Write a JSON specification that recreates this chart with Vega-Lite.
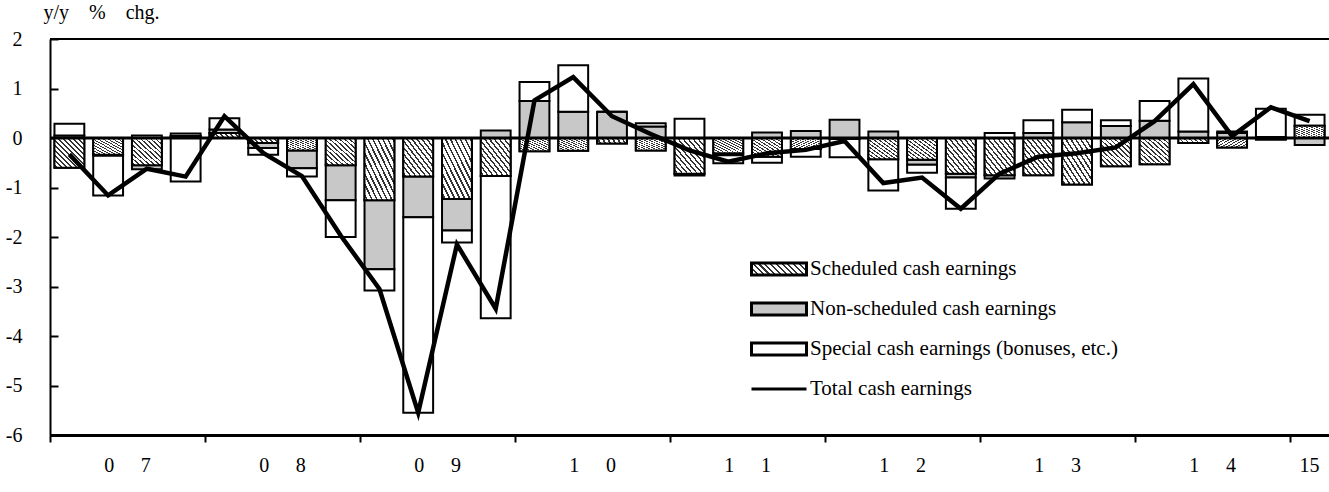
{
  "$schema": "https://vega.github.io/schema/vega-lite/v6.json",
  "width": 1279,
  "height": 396,
  "autosize": "none",
  "padding": {"left": 50, "top": 39, "right": 0, "bottom": 57},
  "background": "white",
  "config": {"view": {"stroke": null}, "font": "Liberation Serif"},
  "datasets": {
    "bars": [
      {"q":"2007Q1","s":"Scheduled cash earnings","k":1,"v":-0.60},{"q":"2007Q1","s":"Non-scheduled cash earnings","k":2,"v":0.05},{"q":"2007Q1","s":"Special cash earnings (bonuses, etc.)","k":3,"v":0.24},
      {"q":"2007Q2","s":"Scheduled cash earnings","k":1,"v":-0.34},{"q":"2007Q2","s":"Non-scheduled cash earnings","k":2,"v":-0.02},{"q":"2007Q2","s":"Special cash earnings (bonuses, etc.)","k":3,"v":-0.80},
      {"q":"2007Q3","s":"Scheduled cash earnings","k":1,"v":-0.55},{"q":"2007Q3","s":"Non-scheduled cash earnings","k":2,"v":-0.08},{"q":"2007Q3","s":"Special cash earnings (bonuses, etc.)","k":3,"v":0.05},
      {"q":"2007Q4","s":"Scheduled cash earnings","k":1,"v":0.04},{"q":"2007Q4","s":"Non-scheduled cash earnings","k":2,"v":0.05},{"q":"2007Q4","s":"Special cash earnings (bonuses, etc.)","k":3,"v":-0.88},
      {"q":"2008Q1","s":"Scheduled cash earnings","k":1,"v":0.10},{"q":"2008Q1","s":"Non-scheduled cash earnings","k":2,"v":0.07},{"q":"2008Q1","s":"Special cash earnings (bonuses, etc.)","k":3,"v":0.23},
      {"q":"2008Q2","s":"Scheduled cash earnings","k":1,"v":-0.10},{"q":"2008Q2","s":"Non-scheduled cash earnings","k":2,"v":-0.10},{"q":"2008Q2","s":"Special cash earnings (bonuses, etc.)","k":3,"v":-0.14},
      {"q":"2008Q3","s":"Scheduled cash earnings","k":1,"v":-0.25},{"q":"2008Q3","s":"Non-scheduled cash earnings","k":2,"v":-0.36},{"q":"2008Q3","s":"Special cash earnings (bonuses, etc.)","k":3,"v":-0.17},
      {"q":"2008Q4","s":"Scheduled cash earnings","k":1,"v":-0.55},{"q":"2008Q4","s":"Non-scheduled cash earnings","k":2,"v":-0.71},{"q":"2008Q4","s":"Special cash earnings (bonuses, etc.)","k":3,"v":-0.74},
      {"q":"2009Q1","s":"Scheduled cash earnings","k":1,"v":-1.26},{"q":"2009Q1","s":"Non-scheduled cash earnings","k":2,"v":-1.39},{"q":"2009Q1","s":"Special cash earnings (bonuses, etc.)","k":3,"v":-0.43},
      {"q":"2009Q2","s":"Scheduled cash earnings","k":1,"v":-0.78},{"q":"2009Q2","s":"Non-scheduled cash earnings","k":2,"v":-0.82},{"q":"2009Q2","s":"Special cash earnings (bonuses, etc.)","k":3,"v":-3.95},
      {"q":"2009Q3","s":"Scheduled cash earnings","k":1,"v":-1.23},{"q":"2009Q3","s":"Non-scheduled cash earnings","k":2,"v":-0.64},{"q":"2009Q3","s":"Special cash earnings (bonuses, etc.)","k":3,"v":-0.24},
      {"q":"2009Q4","s":"Scheduled cash earnings","k":1,"v":-0.77},{"q":"2009Q4","s":"Non-scheduled cash earnings","k":2,"v":0.15},{"q":"2009Q4","s":"Special cash earnings (bonuses, etc.)","k":3,"v":-2.87},
      {"q":"2010Q1","s":"Scheduled cash earnings","k":1,"v":-0.27},{"q":"2010Q1","s":"Non-scheduled cash earnings","k":2,"v":0.75},{"q":"2010Q1","s":"Special cash earnings (bonuses, etc.)","k":3,"v":0.38},
      {"q":"2010Q2","s":"Scheduled cash earnings","k":1,"v":-0.26},{"q":"2010Q2","s":"Non-scheduled cash earnings","k":2,"v":0.53},{"q":"2010Q2","s":"Special cash earnings (bonuses, etc.)","k":3,"v":0.94},
      {"q":"2010Q3","s":"Scheduled cash earnings","k":1,"v":-0.11},{"q":"2010Q3","s":"Non-scheduled cash earnings","k":2,"v":0.53},{"q":"2010Q3","s":"Special cash earnings (bonuses, etc.)","k":3,"v":0.0},
      {"q":"2010Q4","s":"Scheduled cash earnings","k":1,"v":-0.25},{"q":"2010Q4","s":"Non-scheduled cash earnings","k":2,"v":0.23},{"q":"2010Q4","s":"Special cash earnings (bonuses, etc.)","k":3,"v":0.07},
      {"q":"2011Q1","s":"Scheduled cash earnings","k":1,"v":-0.72},{"q":"2011Q1","s":"Non-scheduled cash earnings","k":2,"v":-0.04},{"q":"2011Q1","s":"Special cash earnings (bonuses, etc.)","k":3,"v":0.39},
      {"q":"2011Q2","s":"Scheduled cash earnings","k":1,"v":-0.31},{"q":"2011Q2","s":"Non-scheduled cash earnings","k":2,"v":-0.04},{"q":"2011Q2","s":"Special cash earnings (bonuses, etc.)","k":3,"v":-0.16},
      {"q":"2011Q3","s":"Scheduled cash earnings","k":1,"v":-0.38},{"q":"2011Q3","s":"Non-scheduled cash earnings","k":2,"v":0.11},{"q":"2011Q3","s":"Special cash earnings (bonuses, etc.)","k":3,"v":-0.12},
      {"q":"2011Q4","s":"Scheduled cash earnings","k":1,"v":-0.22},{"q":"2011Q4","s":"Non-scheduled cash earnings","k":2,"v":0.14},{"q":"2011Q4","s":"Special cash earnings (bonuses, etc.)","k":3,"v":-0.16},
      {"q":"2012Q1","s":"Scheduled cash earnings","k":1,"v":-0.02},{"q":"2012Q1","s":"Non-scheduled cash earnings","k":2,"v":0.37},{"q":"2012Q1","s":"Special cash earnings (bonuses, etc.)","k":3,"v":-0.37},
      {"q":"2012Q2","s":"Scheduled cash earnings","k":1,"v":-0.43},{"q":"2012Q2","s":"Non-scheduled cash earnings","k":2,"v":0.13},{"q":"2012Q2","s":"Special cash earnings (bonuses, etc.)","k":3,"v":-0.63},
      {"q":"2012Q3","s":"Scheduled cash earnings","k":1,"v":-0.44},{"q":"2012Q3","s":"Non-scheduled cash earnings","k":2,"v":-0.10},{"q":"2012Q3","s":"Special cash earnings (bonuses, etc.)","k":3,"v":-0.16},
      {"q":"2012Q4","s":"Scheduled cash earnings","k":1,"v":-0.72},{"q":"2012Q4","s":"Non-scheduled cash earnings","k":2,"v":-0.08},{"q":"2012Q4","s":"Special cash earnings (bonuses, etc.)","k":3,"v":-0.63},
      {"q":"2013Q1","s":"Scheduled cash earnings","k":1,"v":-0.75},{"q":"2013Q1","s":"Non-scheduled cash earnings","k":2,"v":-0.07},{"q":"2013Q1","s":"Special cash earnings (bonuses, etc.)","k":3,"v":0.10},
      {"q":"2013Q2","s":"Scheduled cash earnings","k":1,"v":-0.75},{"q":"2013Q2","s":"Non-scheduled cash earnings","k":2,"v":0.10},{"q":"2013Q2","s":"Special cash earnings (bonuses, etc.)","k":3,"v":0.26},
      {"q":"2013Q3","s":"Scheduled cash earnings","k":1,"v":-0.94},{"q":"2013Q3","s":"Non-scheduled cash earnings","k":2,"v":0.32},{"q":"2013Q3","s":"Special cash earnings (bonuses, etc.)","k":3,"v":0.25},
      {"q":"2013Q4","s":"Scheduled cash earnings","k":1,"v":-0.57},{"q":"2013Q4","s":"Non-scheduled cash earnings","k":2,"v":0.24},{"q":"2013Q4","s":"Special cash earnings (bonuses, etc.)","k":3,"v":0.12},
      {"q":"2014Q1","s":"Scheduled cash earnings","k":1,"v":-0.53},{"q":"2014Q1","s":"Non-scheduled cash earnings","k":2,"v":0.35},{"q":"2014Q1","s":"Special cash earnings (bonuses, etc.)","k":3,"v":0.40},
      {"q":"2014Q2","s":"Scheduled cash earnings","k":1,"v":-0.10},{"q":"2014Q2","s":"Non-scheduled cash earnings","k":2,"v":0.13},{"q":"2014Q2","s":"Special cash earnings (bonuses, etc.)","k":3,"v":1.07},
      {"q":"2014Q3","s":"Scheduled cash earnings","k":1,"v":-0.19},{"q":"2014Q3","s":"Non-scheduled cash earnings","k":2,"v":0.10},{"q":"2014Q3","s":"Special cash earnings (bonuses, etc.)","k":3,"v":0.03},
      {"q":"2014Q4","s":"Scheduled cash earnings","k":1,"v":-0.03},{"q":"2014Q4","s":"Non-scheduled cash earnings","k":2,"v":0.02},{"q":"2014Q4","s":"Special cash earnings (bonuses, etc.)","k":3,"v":0.57},
      {"q":"2015Q1","s":"Scheduled cash earnings","k":1,"v":0.25},{"q":"2015Q1","s":"Non-scheduled cash earnings","k":2,"v":-0.14},{"q":"2015Q1","s":"Special cash earnings (bonuses, etc.)","k":3,"v":0.22}
    ],
    "total": [
      {"q":"2007Q1","s":"Total cash earnings","v":-0.33},{"q":"2007Q2","s":"Total cash earnings","v":-1.16},{"q":"2007Q3","s":"Total cash earnings","v":-0.62},{"q":"2007Q4","s":"Total cash earnings","v":-0.78},
      {"q":"2008Q1","s":"Total cash earnings","v":0.44},{"q":"2008Q2","s":"Total cash earnings","v":-0.30},{"q":"2008Q3","s":"Total cash earnings","v":-0.77},{"q":"2008Q4","s":"Total cash earnings","v":-1.97},
      {"q":"2009Q1","s":"Total cash earnings","v":-3.05},{"q":"2009Q2","s":"Total cash earnings","v":-5.55},{"q":"2009Q3","s":"Total cash earnings","v":-2.15},{"q":"2009Q4","s":"Total cash earnings","v":-3.45},
      {"q":"2010Q1","s":"Total cash earnings","v":0.76},{"q":"2010Q2","s":"Total cash earnings","v":1.23},{"q":"2010Q3","s":"Total cash earnings","v":0.44},{"q":"2010Q4","s":"Total cash earnings","v":0.08},
      {"q":"2011Q1","s":"Total cash earnings","v":-0.25},{"q":"2011Q2","s":"Total cash earnings","v":-0.48},{"q":"2011Q3","s":"Total cash earnings","v":-0.31},{"q":"2011Q4","s":"Total cash earnings","v":-0.24},
      {"q":"2012Q1","s":"Total cash earnings","v":-0.06},{"q":"2012Q2","s":"Total cash earnings","v":-0.91},{"q":"2012Q3","s":"Total cash earnings","v":-0.80},{"q":"2012Q4","s":"Total cash earnings","v":-1.43},
      {"q":"2013Q1","s":"Total cash earnings","v":-0.72},{"q":"2013Q2","s":"Total cash earnings","v":-0.38},{"q":"2013Q3","s":"Total cash earnings","v":-0.31},{"q":"2013Q4","s":"Total cash earnings","v":-0.19},
      {"q":"2014Q1","s":"Total cash earnings","v":0.34},{"q":"2014Q2","s":"Total cash earnings","v":1.09},{"q":"2014Q3","s":"Total cash earnings","v":0.04},{"q":"2014Q4","s":"Total cash earnings","v":0.62},
      {"q":"2015Q1","s":"Total cash earnings","v":0.34}
    ]
  },
  "layer": [
    {
      "data": {"name": "bars"},
      "mark": {"type": "bar", "width": {"band": 0.77}, "stroke": "black", "strokeWidth": 2},
      "encoding": {
        "x": {
          "field": "q", "type": "ordinal",
          "scale": {"paddingInner": 0, "paddingOuter": 0},
          "axis": {
            "values": ["2007Q1","2008Q1","2009Q1","2010Q1","2011Q1","2012Q1","2013Q1","2014Q1","2015Q1"],
            "bandPosition": 0,
            "title": null,
            "domainColor": "black", "domainWidth": 3,
            "tickColor": "black", "tickWidth": 2, "tickSize": 7,
            "labelFont": "Liberation Serif", "labelFontSize": 20, "labelColor": "black",
            "labelPadding": 13, "labelAngle": 0, "labelOverlap": false,
            "labelOffset": {"expr": "datum.value === '2015Q1' ? 0 : 58.1"},
            "labelExpr": "datum.value === '2015Q1' ? '15' : substring(datum.value, 2, 3) + '\u2003\u2004' + substring(datum.value, 3, 4)"
          }
        },
        "y": {
          "field": "v", "type": "quantitative", "stack": "zero",
          "scale": {"domain": [-6, 2], "nice": false},
          "axis": {
            "values": [2, 1, 0, -1, -2, -3, -4, -5, -6],
            "grid": false,
            "title": "y/y\u2003%\u2003chg.",
            "titleAngle": 0, "titleAlign": "left", "titleBaseline": "middle",
            "titleX": -7, "titleY": -27,
            "titleFont": "Liberation Serif", "titleFontSize": 20, "titleFontWeight": "normal", "titleColor": "black",
            "domainColor": "black", "domainWidth": 2,
            "tickColor": "black", "tickWidth": 2, "tickSize": -8,
            "labelPadding": 36, "labelFlush": false, "labelOverlap": false,
            "labelFont": "Liberation Serif", "labelFontSize": 20, "labelColor": "black",
            "labelExpr": "'' + datum.value"
          }
        },
        "order": {"field": "k", "type": "quantitative"},
        "color": {
          "field": "s", "type": "nominal",
          "scale": {
            "domain": ["Scheduled cash earnings", "Non-scheduled cash earnings", "Special cash earnings (bonuses, etc.)"],
            "range": ["#ffffff", "#c8c8c8", "#ffffff"]
          },
          "legend": null
        }
      }
    },
    {
      "data": {"name": "bars"},
      "transform": [{"filter": "datum.s === 'Scheduled cash earnings'"}],
      "mark": {
        "type": "bar", "width": {"band": 0.77}, "stroke": "black", "strokeWidth": 2,
        "fill": {
          "gradient": "linear", "x1": 1, "y1": 0, "x2": 0, "y2": 1,
          "stops": [
            {"offset":0,"color":"#fff"},
            {"offset":0.02,"color":"#fff"},{"offset":0.02,"color":"#333"},{"offset":0.05,"color":"#333"},{"offset":0.05,"color":"#fff"},
            {"offset":0.1033,"color":"#fff"},{"offset":0.1033,"color":"#333"},{"offset":0.1333,"color":"#333"},{"offset":0.1333,"color":"#fff"},
            {"offset":0.1867,"color":"#fff"},{"offset":0.1867,"color":"#333"},{"offset":0.2167,"color":"#333"},{"offset":0.2167,"color":"#fff"},
            {"offset":0.27,"color":"#fff"},{"offset":0.27,"color":"#333"},{"offset":0.30,"color":"#333"},{"offset":0.30,"color":"#fff"},
            {"offset":0.3533,"color":"#fff"},{"offset":0.3533,"color":"#333"},{"offset":0.3833,"color":"#333"},{"offset":0.3833,"color":"#fff"},
            {"offset":0.4367,"color":"#fff"},{"offset":0.4367,"color":"#333"},{"offset":0.4667,"color":"#333"},{"offset":0.4667,"color":"#fff"},
            {"offset":0.52,"color":"#fff"},{"offset":0.52,"color":"#333"},{"offset":0.55,"color":"#333"},{"offset":0.55,"color":"#fff"},
            {"offset":0.6033,"color":"#fff"},{"offset":0.6033,"color":"#333"},{"offset":0.6333,"color":"#333"},{"offset":0.6333,"color":"#fff"},
            {"offset":0.6867,"color":"#fff"},{"offset":0.6867,"color":"#333"},{"offset":0.7167,"color":"#333"},{"offset":0.7167,"color":"#fff"},
            {"offset":0.77,"color":"#fff"},{"offset":0.77,"color":"#333"},{"offset":0.80,"color":"#333"},{"offset":0.80,"color":"#fff"},
            {"offset":0.8533,"color":"#fff"},{"offset":0.8533,"color":"#333"},{"offset":0.8833,"color":"#333"},{"offset":0.8833,"color":"#fff"},
            {"offset":0.9367,"color":"#fff"},{"offset":0.9367,"color":"#333"},{"offset":0.9667,"color":"#333"},{"offset":0.9667,"color":"#fff"},
            {"offset":1,"color":"#fff"}
          ]
        }
      },
      "encoding": {
        "x": {"field": "q", "type": "ordinal"},
        "y": {"field": "v", "type": "quantitative"}
      }
    },
    {
      "data": {"values": [{"y": 0, "w": 3}, {"y": 2, "w": 2}]},
      "mark": {"type": "rule", "color": "black"},
      "encoding": {
        "y": {"field": "y", "type": "quantitative"},
        "strokeWidth": {"field": "w", "type": "quantitative", "scale": null}
      }
    },
    {
      "data": {"name": "total"},
      "mark": {"type": "line", "strokeWidth": 4.5, "strokeJoin": "miter", "color": "black"},
      "encoding": {
        "x": {"field": "q", "type": "ordinal"},
        "y": {"field": "v", "type": "quantitative"}
      }
    },
    {
      "data": {"name": "total"},
      "mark": {
        "type": "point", "opacity": 0, "filled": true, "stroke": "black",
        "fill": {"expr": "datum.value === 'Scheduled cash earnings' ? {gradient: 'linear', x1: 1, y1: 0, x2: -0.2, y2: 0.264, stops: [{offset:0,color:'#fff'},{offset:0.02,color:'#fff'},{offset:0.02,color:'#333'},{offset:0.05,color:'#333'},{offset:0.05,color:'#fff'},{offset:0.1033,color:'#fff'},{offset:0.1033,color:'#333'},{offset:0.1333,color:'#333'},{offset:0.1333,color:'#fff'},{offset:0.1867,color:'#fff'},{offset:0.1867,color:'#333'},{offset:0.2167,color:'#333'},{offset:0.2167,color:'#fff'},{offset:0.27,color:'#fff'},{offset:0.27,color:'#333'},{offset:0.30,color:'#333'},{offset:0.30,color:'#fff'},{offset:0.3533,color:'#fff'},{offset:0.3533,color:'#333'},{offset:0.3833,color:'#333'},{offset:0.3833,color:'#fff'},{offset:0.4367,color:'#fff'},{offset:0.4367,color:'#333'},{offset:0.4667,color:'#333'},{offset:0.4667,color:'#fff'},{offset:0.52,color:'#fff'},{offset:0.52,color:'#333'},{offset:0.55,color:'#333'},{offset:0.55,color:'#fff'},{offset:0.6033,color:'#fff'},{offset:0.6033,color:'#333'},{offset:0.6333,color:'#333'},{offset:0.6333,color:'#fff'},{offset:0.6867,color:'#fff'},{offset:0.6867,color:'#333'},{offset:0.7167,color:'#333'},{offset:0.7167,color:'#fff'},{offset:0.77,color:'#fff'},{offset:0.77,color:'#333'},{offset:0.80,color:'#333'},{offset:0.80,color:'#fff'},{offset:0.8533,color:'#fff'},{offset:0.8533,color:'#333'},{offset:0.8833,color:'#333'},{offset:0.8833,color:'#fff'},{offset:0.9367,color:'#fff'},{offset:0.9367,color:'#333'},{offset:0.9667,color:'#333'},{offset:0.9667,color:'#fff'},{offset:1,color:'#fff'}]} : datum.value === 'Non-scheduled cash earnings' ? '#c8c8c8' : datum.value === 'Total cash earnings' ? 'transparent' : '#ffffff'"}
      },
      "encoding": {
        "x": {"field": "q", "type": "ordinal"},
        "y": {"field": "v", "type": "quantitative"},
        "shape": {
          "field": "s", "type": "nominal",
          "scale": {
            "domain": ["Scheduled cash earnings", "Non-scheduled cash earnings", "Special cash earnings (bonuses, etc.)", "Total cash earnings"],
            "range": ["M-1,-0.22H1V0.22H-1Z", "M-1,-0.22H1V0.22H-1Z", "M-1,-0.22H1V0.22H-1Z", "stroke"]
          },
          "legend": {
            "orient": "none", "legendX": 700, "legendY": 219,
            "title": null,
            "labelFont": "Liberation Serif", "labelFontSize": 21, "labelColor": "black", "labelLimit": 0,
            "labelOffset": 2, "rowPadding": 18, "clipHeight": 22,
            "symbolSize": 3025, "symbolOpacity": 1, "symbolStrokeWidth": 3
          }
        }
      }
    }
  ]
}
